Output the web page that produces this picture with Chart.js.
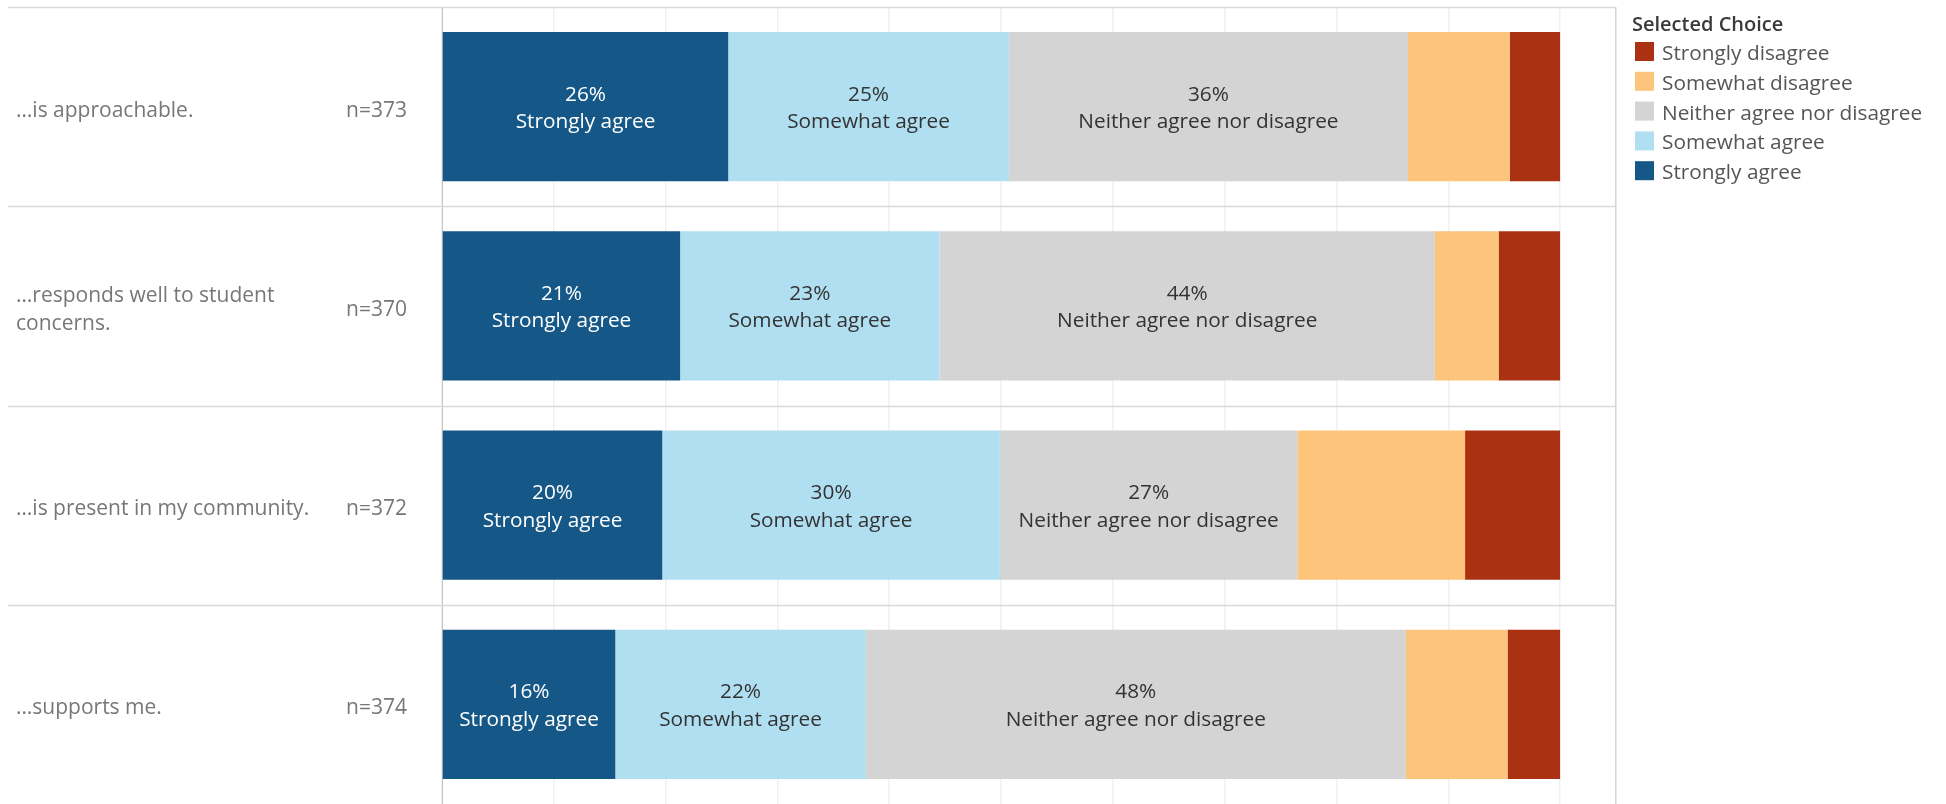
<!DOCTYPE html>
<html>
<head>
<meta charset="utf-8">
<script src="https://cdn.jsdelivr.net/npm/chart.js@4/dist/chart.umd.min.js"></script>
<style>
html, body { margin: 0; padding: 0; background: #fff; }
#wrap { width: 1946px; height: 804px; position: relative; }
</style>
</head>
<body>
<div id="wrap"><canvas id="canvas" width="1946" height="804"></canvas></div>
<script>
// rows of the chart
const questions = [
    ['\u2026is approachable.'],
    ['\u2026responds well to student', 'concerns.'],
    ['\u2026is present in my community.'],
    ['\u2026supports me.']
];
const respondents = [373, 370, 372, 374];

// answer shares in percent, one array per choice
const choices = ['Strongly agree', 'Somewhat agree', 'Neither agree nor disagree', 'Somewhat disagree', 'Strongly disagree'];
const stronglyAgree    = [25.6, 21.3, 19.7, 15.5];
const somewhatAgree    = [25.1, 23.2, 30.2, 22.4];
const neitherAgree     = [35.7, 44.3, 26.6, 48.3];
const somewhatDisagree = [9.1, 5.7, 15.0, 9.1];
const stronglyDisagree = [4.5, 5.5, 8.5, 4.7];
const choiceValues = [stronglyAgree, somewhatAgree, neitherAgree, somewhatDisagree, stronglyDisagree];

const choiceColors = ['#155887', '#b1dff2', '#d4d4d4', '#fdc47c', '#aa3212'];
const labelColors = ['#ffffff', '#333333', '#333333', null, null];
const xGridValues = [0, 10, 20, 30, 40, 50, 60, 70, 80, 90, 100, 105];

const FONT = "'Open Sans', sans-serif";

function formatPercent(v) {
    return Math.round(v) + '%';
}

const tableauLook = {
    id: 'tableauLook',
    beforeDatasetsDraw(chart) {
        const ctx = chart.ctx;
        const y = chart.scales.y;
        const area = chart.chartArea;
        const half = (y.getPixelForValue(1) - y.getPixelForValue(0)) / 2;

        ctx.save();
        ctx.strokeStyle = '#d9d9d9';
        ctx.lineWidth = 1.5;
        for (let i = 0; i < questions.length; i++) {
            const top = Math.round(y.getPixelForValue(i) - half) + 0.5;
            ctx.beginPath();
            ctx.moveTo(8, top);
            ctx.lineTo(area.right, top);
            ctx.stroke();
        }
        ctx.restore();
    },
    afterDatasetsDraw(chart) {
        const ctx = chart.ctx;
        const y = chart.scales.y;

        ctx.save();
        ctx.font = '20.8px ' + FONT;
        ctx.textAlign = 'center';
        ctx.textBaseline = 'middle';
        chart.data.datasets.forEach((ds, di) => {
            if (!labelColors[di]) return;
            const meta = chart.getDatasetMeta(di);
            meta.data.forEach((bar, j) => {
                const cx = (bar.x + bar.base) / 2;
                ctx.fillStyle = labelColors[di];
                ctx.fillText(formatPercent(ds.data[j]), cx, bar.y - 12);
                ctx.fillText(ds.label, cx, bar.y + 15.5);
            });
        });

        // question text and n= on the left
        ctx.font = '21px ' + FONT;
        ctx.fillStyle = '#777777';
        for (let i = 0; i < questions.length; i++) {
            const cy = y.getPixelForValue(i) + 4;
            const lines = questions[i];
            ctx.textAlign = 'left';
            lines.forEach((line, k) => {
                ctx.fillText(line, 16, cy + (k - (lines.length - 1) / 2) * 28);
            });
            ctx.textAlign = 'right';
            ctx.fillText('n=' + respondents[i], 407, cy);
        }
        ctx.restore();
    },
    afterDraw(chart) {
        const ctx = chart.ctx;
        ctx.save();
        ctx.textBaseline = 'middle';
        ctx.textAlign = 'left';
        ctx.font = '600 20px ' + FONT;
        ctx.fillStyle = '#3a3a3a';
        ctx.fillText('Selected Choice', 1632, 25);

        ctx.font = '20.8px ' + FONT;
        const order = chart.data.datasets.map((ds, i) => i).reverse();
        order.forEach((di, k) => {
            const cy = 51.5 + k * 29.8;
            ctx.fillStyle = chart.data.datasets[di].backgroundColor;
            ctx.fillRect(1635, cy - 9.5, 19, 19);
            ctx.fillStyle = '#555555';
            ctx.fillText(chart.data.datasets[di].label, 1662, cy + 2.5);
        });
        ctx.restore();
    }
};

const datasets = choices.map((name, i) => ({
    label: name,
    data: choiceValues[i],
    backgroundColor: choiceColors[i],
    borderWidth: 0,
    barPercentage: 0.75,
    categoryPercentage: 1.0
}));

const ctx = document.getElementById('canvas').getContext('2d');

window.chart = new Chart(ctx, {
    type: 'bar',
    data: {
        labels: questions.map(q => q.join(' ')),
        datasets: datasets
    },
    options: {
        indexAxis: 'y',
        responsive: false,
        animation: false,
        devicePixelRatio: 1,
        layout: {
            padding: { left: 442, right: 330, top: 7, bottom: 0 }
        },
        plugins: {
            legend: { display: false },
            tooltip: { enabled: false }
        },
        scales: {
            x: {
                stacked: true,
                min: 0,
                max: 105,
                afterBuildTicks: scale => {
                    scale.ticks = xGridValues.map(v => ({ value: v }));
                },
                ticks: { display: false },
                border: { display: false },
                grid: {
                    drawTicks: false,
                    lineWidth: 1.5,
                    color: c => (c.tick && c.tick.value === 105) ? '#d4d4d4' : '#f0f0f0'
                }
            },
            y: {
                stacked: true,
                ticks: { display: false },
                grid: { display: false, drawTicks: false },
                border: { display: true, color: '#c4c4c4', dash: [2, 2], width: 1 }
            }
        }
    },
    plugins: [tableauLook]
});
</script>
</body>
</html>
